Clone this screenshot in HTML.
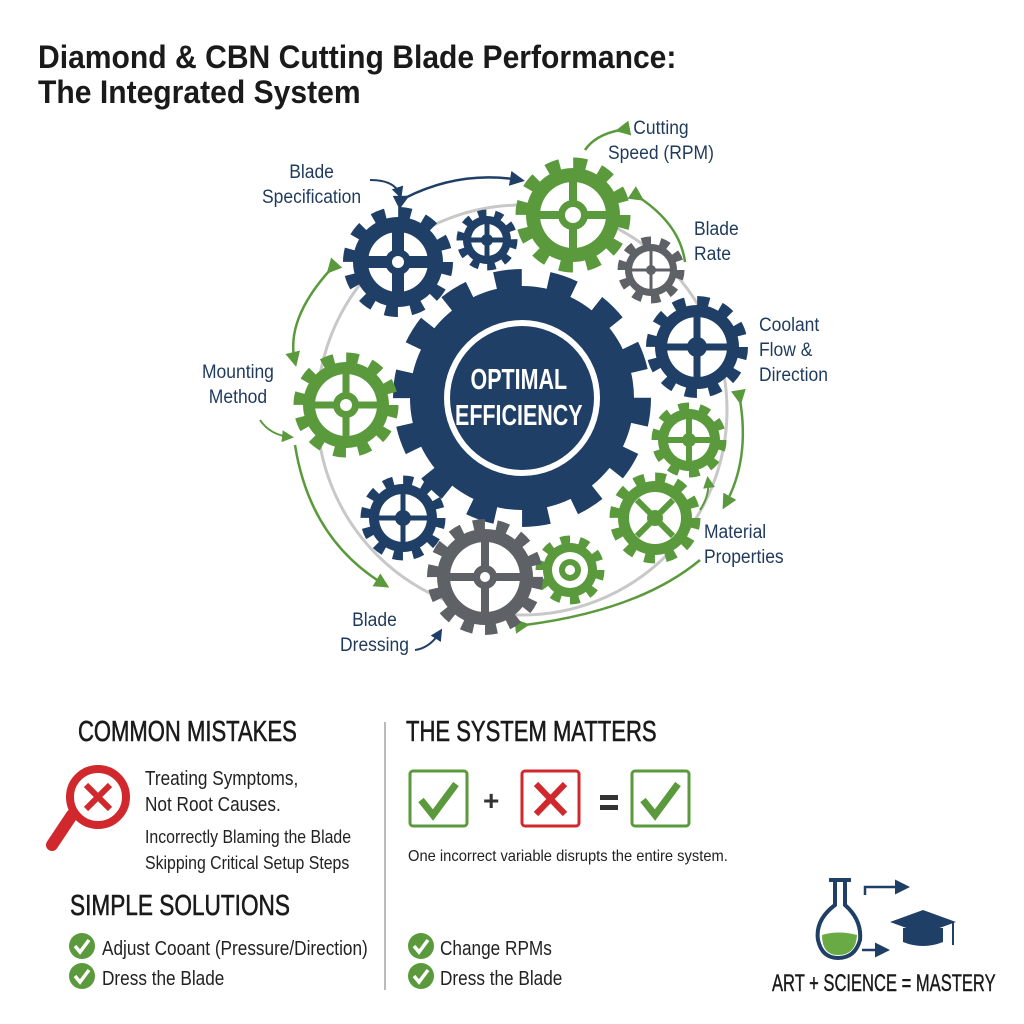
<!DOCTYPE html>
<html><head><meta charset="utf-8"><style>
body{margin:0;background:#fff;}
.w{position:relative;width:1024px;height:1024px;overflow:hidden;background:#fff;font-family:"Liberation Sans Narrow","Liberation Sans",sans-serif;}
.t{position:absolute;white-space:nowrap;transform-origin:0 0;}
</style></head><body><div class="w">
<svg width="1024" height="1024" style="position:absolute;left:0;top:0">
<defs>
<marker id="ag" markerWidth="6" markerHeight="6" refX="4" refY="3" orient="auto"><path d="M0,0 L6,3 L0,6 z" fill="#5a9a3c"/></marker>
<marker id="an" markerWidth="6" markerHeight="6" refX="4" refY="3" orient="auto"><path d="M0,0 L6,3 L0,6 z" fill="#1f3f66"/></marker>
</defs>
<circle cx="522" cy="410" r="205" fill="none" stroke="#c8c8c8" stroke-width="3"/>
<path d="M330,270 Q285,320 295,362" fill="none" stroke="#5a9a3c" stroke-width="2.5" marker-end="url(#ag)" marker-start="url(#ag)"/>
<path d="M295,445 Q310,540 385,585" fill="none" stroke="#5a9a3c" stroke-width="2.5" marker-end="url(#ag)"/>
<path d="M525,625 Q640,610 700,560" fill="none" stroke="#5a9a3c" stroke-width="2.5" marker-start="url(#ag)"/>
<path d="M740,400 Q750,460 725,505" fill="none" stroke="#5a9a3c" stroke-width="2.5" marker-start="url(#ag)" marker-end="url(#ag)"/>
<path d="M640,198 Q680,225 685,262" fill="none" stroke="#5a9a3c" stroke-width="2.5" marker-start="url(#ag)"/>
<path d="M620,130 Q595,135 585,150" fill="none" stroke="#5a9a3c" stroke-width="2.5" marker-start="url(#ag)" />
<path d="M405,198 Q460,170 520,180" fill="none" stroke="#1f3f66" stroke-width="2.5" marker-start="url(#an)" marker-end="url(#an)"/>
<path d="M370,180 Q395,180 400,195" fill="none" stroke="#1f3f66" stroke-width="2" marker-end="url(#an)"/>
<path d="M260,420 Q270,435 290,437" fill="none" stroke="#5a9a3c" stroke-width="2" marker-end="url(#ag)"/>
<path d="M415,650 Q430,648 440,632" fill="none" stroke="#1f3f66" stroke-width="2" marker-end="url(#an)"/>
<path d="M700,510 Q710,495 708,480" fill="none" stroke="#5a9a3c" stroke-width="2" marker-end="url(#ag)"/>

<g transform="translate(522,398)">
<circle r="118" fill="none" stroke="#1f3f66" stroke-width="22" pathLength="100" stroke-dasharray="3.57 3.57"/>
<circle r="112" fill="#1f3f66"/>
<circle r="78" fill="#fff"/><circle r="72" fill="#1f3f66"/>
</g>
<g transform="translate(398,262)"><circle r="48" fill="none" stroke="#1f3f66" stroke-width="14" pathLength="100" stroke-dasharray="4.17 4.17"/><circle r="45" fill="#1f3f66"/><circle r="30" fill="#fff"/><path d="M0,-30V30M-30,0H30" stroke="#1f3f66" stroke-width="12"/><circle r="13" fill="#1f3f66"/><circle r="6" fill="#fff"/></g>
<g transform="translate(487,240)"><circle r="26" fill="none" stroke="#1f3f66" stroke-width="9" pathLength="100" stroke-dasharray="5 5"/><circle r="24" fill="#1f3f66"/><circle r="16" fill="#fff"/><path d="M0,-16V16M-16,0H16" stroke="#1f3f66" stroke-width="5"/><circle r="6" fill="#1f3f66"/></g>
<g transform="translate(573,215)"><circle r="50" fill="none" stroke="#5a9a3c" stroke-width="15" pathLength="100" stroke-dasharray="4.17 4.17"/><circle r="47" fill="#5a9a3c"/><circle r="33" fill="#fff"/><path d="M0,-33V33M-33,0H33" stroke="#5a9a3c" stroke-width="8"/><circle r="15" fill="#5a9a3c"/><circle r="8" fill="#fff"/></g>
<g transform="translate(651,270)"><circle r="29" fill="none" stroke="#5e6266" stroke-width="9" pathLength="100" stroke-dasharray="5 5"/><circle r="26" fill="#5e6266"/><circle r="19" fill="#fff"/><path d="M0,-19V19M-19,0H19" stroke="#5e6266" stroke-width="3"/><circle r="5" fill="#5e6266"/></g>
<g transform="translate(697,347)"><circle r="45" fill="none" stroke="#1f3f66" stroke-width="12" pathLength="100" stroke-dasharray="4.17 4.17"/><circle r="42" fill="#1f3f66"/><circle r="30" fill="#fff"/><path d="M0,-30V30M-30,0H30" stroke="#1f3f66" stroke-width="7"/><circle r="10" fill="#1f3f66"/></g>
<g transform="translate(689,440)"><circle r="33" fill="none" stroke="#5a9a3c" stroke-width="9" pathLength="100" stroke-dasharray="5 5"/><circle r="31" fill="#5a9a3c"/><circle r="21" fill="#fff"/><path d="M0,-21V21M-21,0H21" stroke="#5a9a3c" stroke-width="6"/><circle r="7" fill="#5a9a3c"/></g>
<g transform="translate(655,518)"><circle r="40" fill="none" stroke="#5a9a3c" stroke-width="11" pathLength="100" stroke-dasharray="4.17 4.17"/><circle r="37" fill="#5a9a3c"/><circle r="26" fill="#fff"/><path d="M-18,-18L18,18M18,-18L-18,18" stroke="#5a9a3c" stroke-width="6"/><circle r="8" fill="#5a9a3c"/></g>
<g transform="translate(570,570)"><circle r="30" fill="none" stroke="#5a9a3c" stroke-width="9" pathLength="100" stroke-dasharray="5 5"/><circle r="27" fill="#5a9a3c"/><circle r="18" fill="#fff"/><circle r="11" fill="#5a9a3c"/><circle r="5" fill="#fff"/></g>
<g transform="translate(485,577)"><circle r="51" fill="none" stroke="#5e6266" stroke-width="14" pathLength="100" stroke-dasharray="3.57 3.57"/><circle r="48" fill="#5e6266"/><circle r="35" fill="#fff"/><path d="M0,-35V35M-35,0H35" stroke="#5e6266" stroke-width="8"/><circle r="12" fill="#5e6266"/><circle r="5" fill="#fff"/></g>
<g transform="translate(403,518)"><circle r="37" fill="none" stroke="#1f3f66" stroke-width="11" pathLength="100" stroke-dasharray="4.17 4.17"/><circle r="34" fill="#1f3f66"/><circle r="24" fill="#fff"/><path d="M0,-24V24M-24,0H24" stroke="#1f3f66" stroke-width="5"/><circle r="8" fill="#1f3f66"/></g>
<g transform="translate(346,405)"><circle r="46" fill="none" stroke="#5a9a3c" stroke-width="13" pathLength="100" stroke-dasharray="4.17 4.17"/><circle r="43" fill="#5a9a3c"/><circle r="31" fill="#fff"/><path d="M0,-31V31M-31,0H31" stroke="#5a9a3c" stroke-width="7"/><circle r="13" fill="#5a9a3c"/><circle r="6" fill="#fff"/></g>

<line x1="385" y1="722" x2="385" y2="990" stroke="#bbb" stroke-width="2"/>
<line x1="72" y1="815" x2="52" y2="845" stroke="#d0282c" stroke-width="12" stroke-linecap="round"/>
<circle cx="98" cy="797" r="28" fill="#fff" stroke="#d0282c" stroke-width="8"/>
<path d="M86,785L110,809M110,785L86,809" stroke="#d0282c" stroke-width="6"/>
<rect x="410" y="771" width="57" height="55" rx="3" fill="#fff" stroke="#5a9a3c" stroke-width="3"/>
<path d="M421,800L433,815L456,784" fill="none" stroke="#5a9a3c" stroke-width="7"/>
<text x="483" y="810" font-size="28" font-weight="bold" fill="#333" font-family="Liberation Sans">+</text>
<rect x="522" y="771" width="57" height="55" rx="3" fill="#fff" stroke="#d0282c" stroke-width="3"/>
<path d="M536,784L565,814M565,784L536,814" stroke="#d0282c" stroke-width="6"/>
<rect x="600" y="795" width="18" height="5" fill="#333"/><rect x="600" y="805" width="18" height="5" fill="#333"/>
<rect x="632" y="771" width="57" height="55" rx="3" fill="#fff" stroke="#5a9a3c" stroke-width="3"/>
<path d="M643,800L655,815L678,784" fill="none" stroke="#5a9a3c" stroke-width="7"/>
<g fill="#5a9a3c"><circle cx="82" cy="946" r="13"/><circle cx="82" cy="976" r="13"/><circle cx="421" cy="946" r="13"/><circle cx="421" cy="976" r="13"/></g>
<g fill="none" stroke="#fff" stroke-width="3.5"><path d="M75,946L80,952L89,940"/><path d="M75,976L80,982L89,970"/><path d="M414,946L419,952L428,940"/><path d="M414,976L419,982L428,970"/></g>
<path d="M835,882V905Q815,920 818,940Q822,958 838,958Q855,958 860,940Q862,920 845,905V882" fill="#fff" stroke="#1f3f66" stroke-width="4"/>
<path d="M822,935Q838,930 857,935Q856,955 838,955Q822,955 822,935z" fill="#6aaa44"/>
<line x1="829" y1="880" x2="851" y2="880" stroke="#1f3f66" stroke-width="4"/>
<path d="M865,895V887H905" fill="none" stroke="#1f3f66" stroke-width="2.5" marker-end="url(#an)"/>
<path d="M862,950H885" fill="none" stroke="#1f3f66" stroke-width="2.5" marker-end="url(#an)"/>
<path d="M890,922L923,910L956,922L923,934z" fill="#1f3f66"/>
<path d="M903,928V942Q923,950 943,942V928" fill="#1f3f66"/>
<line x1="953" y1="922" x2="953" y2="945" stroke="#1f3f66" stroke-width="2"/>
</svg>

<div class="t" style="left:38px;top:40px;font-size:32px;font-weight:bold;color:#1a1a1a;line-height:35px;transform:scaleX(0.94)">Diamond &amp; CBN Cutting Blade Performance:<br>The Integrated System</div>
<div class="t" style="left:455px;top:362px;font-size:29px;font-weight:bold;color:#fff;line-height:36px;text-align:center;transform:scaleX(0.74)">OPTIMAL<br>EFFICIENCY</div>
<div class="t" style="left:262px;top:160px;font-size:19px;color:#1f3a5c;line-height:25px;text-align:center;transform:scaleX(0.92)">Blade<br>Specification</div>
<div class="t" style="left:608px;top:116px;font-size:19px;color:#1f3a5c;line-height:25px;text-align:center;transform:scaleX(0.92)">Cutting<br>Speed (RPM)</div>
<div class="t" style="left:694px;top:217px;font-size:19px;color:#1f3a5c;line-height:25px;transform:scaleX(0.92)">Blade<br>Rate</div>
<div class="t" style="left:759px;top:313px;font-size:19px;color:#1f3a5c;line-height:25px;transform:scaleX(0.92)">Coolant<br>Flow &amp;<br>Direction</div>
<div class="t" style="left:202px;top:360px;font-size:19px;color:#1f3a5c;line-height:25px;text-align:center;transform:scaleX(0.92)">Mounting<br>Method</div>
<div class="t" style="left:704px;top:520px;font-size:19px;color:#1f3a5c;line-height:25px;transform:scaleX(0.92)">Material<br>Properties</div>
<div class="t" style="left:340px;top:608px;font-size:19px;color:#1f3a5c;line-height:25px;text-align:center;transform:scaleX(0.92)">Blade<br>Dressing</div>

<div class="t" style="left:78px;top:716px;font-size:29px;color:#1a1a1a;transform:scaleX(0.76);-webkit-text-stroke:0.6px #1a1a1a">COMMON MISTAKES</div>
<div class="t" style="left:406px;top:716px;font-size:29px;color:#1a1a1a;transform:scaleX(0.76);-webkit-text-stroke:0.6px #1a1a1a">THE SYSTEM MATTERS</div>
<div class="t" style="left:145px;top:766px;font-size:20px;color:#222;line-height:26px;transform:scaleX(0.86)">Treating Symptoms,<br>Not Root Causes.</div>
<div class="t" style="left:145px;top:824px;font-size:18px;color:#222;line-height:26px;transform:scaleX(0.88)">Incorrectly Blaming the Blade<br>Skipping Critical Setup Steps</div>
<div class="t" style="left:408px;top:848px;font-size:16px;color:#222;transform:scaleX(0.92)">One incorrect variable disrupts the entire system.</div>
<div class="t" style="left:70px;top:890px;font-size:29px;color:#1a1a1a;transform:scaleX(0.78);-webkit-text-stroke:0.6px #1a1a1a">SIMPLE SOLUTIONS</div>
<div class="t" style="left:102px;top:934px;font-size:20px;color:#222;line-height:30px;transform:scaleX(0.86)">Adjust Cooant (Pressure/Direction)<br>Dress the Blade</div>
<div class="t" style="left:440px;top:934px;font-size:20px;color:#222;line-height:30px;transform:scaleX(0.86)">Change RPMs<br>Dress the Blade</div>
<div class="t" style="left:772px;top:970px;font-size:24px;color:#1a1a1a;transform:scaleX(0.69);-webkit-text-stroke:0.4px #1a1a1a">ART + SCIENCE = MASTERY</div>
</div></body></html>
